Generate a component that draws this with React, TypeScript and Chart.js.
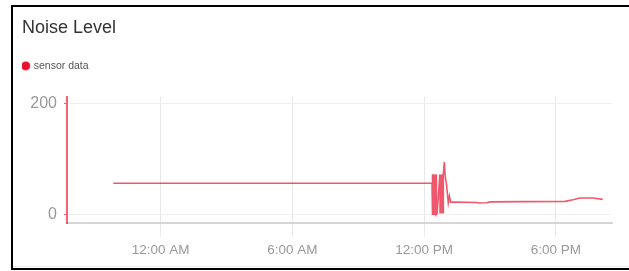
import { useEffect, useRef } from 'react';
import { Chart, registerables } from 'chart.js';

Chart.register(...registerables);

const CHART_TITLE = 'Noise Level';
const SERIES_LABEL = 'sensor data';

// hours relative to midnight
const TIME_HOURS = [
  -2.16, 12.36,
  12.365, 12.37, 12.375, 12.38, 12.385, 12.39, 12.395, 12.4, 12.405, 12.41, 12.415, 12.42,
  12.425, 12.43, 12.435, 12.44, 12.445, 12.45, 12.455, 12.46, 12.465, 12.47, 12.475, 12.48,
  12.485, 12.49, 12.495, 12.5, 12.505, 12.51, 12.515, 12.52, 12.525, 12.53, 12.535, 12.54,
  12.545, 12.55, 12.555, 12.56, 12.565, 12.57, 12.59, 12.72,
  12.725, 12.73, 12.735, 12.74, 12.745, 12.75, 12.755, 12.76, 12.765, 12.77, 12.775, 12.78,
  12.785, 12.79, 12.795, 12.8, 12.805, 12.81, 12.815, 12.82, 12.825, 12.83, 12.835, 12.84,
  12.845, 12.85, 12.855, 12.86, 12.865, 12.87, 12.875, 12.88,
  12.92, 12.96, 13.02, 13.1, 13.15, 13.21, 13.41, 14.4, 14.5, 14.85, 15.0, 16.5, 18.42, 18.78,
  19.1, 19.69, 20.14,
];
const NOISE_VALUES = [
  57, 57,
  73, 0, 73, 2, 73, 0, 72, 1, 73, 0, 73, 0,
  73, 1, 72, 0, 73, 2, 73, 0, 72, 1, 73, 0,
  73, 0, 72, 1, 73, 0, 73, 2, 72, 0, 73, 1,
  73, 0, 72, 0, 73, 1, 2, 73,
  4, 73, 5, 72, 4, 73, 6, 73, 4, 72, 5, 73,
  4, 73, 6, 72, 5, 73, 4, 73, 5, 72, 4, 73,
  6, 73, 5, 72, 4, 73, 6, 73,
  95, 70, 55, 22, 34, 23, 23, 22.5, 21.5, 22, 23.5, 24, 24.5, 27.5,
  30.5, 30.5, 28,
];

const X_TICK_HOURS = [0, 6, 12, 18];
const X_TICK_LABELS = ['12:00 AM', '6:00 AM', '12:00 PM', '6:00 PM'];
const Y_TICK_VALUES = [0, 200];

const FONT = "'Liberation Sans', Arial, sans-serif";

export default function App() {
  const canvasRef = useRef<HTMLCanvasElement | null>(null);

  useEffect(() => {
    const canvas = canvasRef.current;
    if (!canvas) return;

    const legendSpacer = {
      id: 'legendSpacer',
      beforeInit(chart: any) {
        const legend = chart.legend;
        if (!legend) return;
        const orig = legend.fit;
        legend.fit = function () {
          orig.call(this);
          this.height += 15.5;
        };
      },
    };

    // card frame: black left, top and bottom edges, faint inner line near the bottom
    const cardFrame = {
      id: 'cardFrame',
      beforeDraw(chart: any) {
        const ctx = chart.ctx;
        const w = chart.width;
        ctx.save();
        ctx.fillStyle = '#fff';
        ctx.fillRect(0, 0, w, chart.height);
        ctx.fillStyle = '#000';
        ctx.fillRect(11, 5, w - 11, 2);
        ctx.fillRect(11, 5, 2, 265);
        ctx.fillRect(11, 268, w - 11, 2);
        ctx.fillStyle = '#eee';
        ctx.fillRect(13, 266, w - 13, 1);
        ctx.restore();
      },
    };

    const points = TIME_HOURS.map((t, i) => ({ x: t, y: NOISE_VALUES[i] }));

    const chart = new Chart(canvas, {
      type: 'line',
      data: {
        datasets: [
          {
            label: SERIES_LABEL,
            data: points,
            borderColor: 'rgba(232,17,45,0.7)',
            backgroundColor: 'rgb(232,17,45)',
            borderWidth: 1.6,
            pointRadius: 0,
            tension: 0,
            fill: false,
          },
        ],
      },
      options: {
        animation: false,
        responsive: false,
        devicePixelRatio: 1,
        layout: { padding: { left: 22, right: 17, top: 0, bottom: 0 } },
        plugins: {
          title: {
            display: true,
            text: CHART_TITLE,
            align: 'start',
            color: '#333',
            font: { family: FONT, size: 18, weight: 'normal' },
            padding: { top: 17, bottom: 21 },
          },
          legend: {
            display: true,
            align: 'start',
            labels: {
              usePointStyle: true,
              pointStyle: 'circle',
              boxWidth: 5.5,
              boxHeight: 5.5,
              padding: 1,
              color: '#555',
              font: { family: FONT, size: 10.5 },
            },
          },
          tooltip: { enabled: false },
        },
        scales: {
          x: {
            type: 'linear',
            min: -4.27,
            max: 20.56,
            afterBuildTicks: (scale: any) => {
              scale.ticks = X_TICK_HOURS.map((v) => ({ value: v }));
            },
            afterFit: (scale: any) => {
              scale.height = 48;
            },
            grid: {
              color: '#e8e8e8',
              tickColor: '#e8e8e8',
              tickLength: 14,
              lineWidth: 1,
            },
            border: { color: '#d6d6d6', width: 2 },
            ticks: {
              color: '#999',
              padding: 5,
              maxRotation: 0,
              font: { family: FONT, size: 13.5 },
              callback: (v: any) => {
                const i = X_TICK_HOURS.indexOf(Number(v));
                return i >= 0 ? X_TICK_LABELS[i] : '';
              },
            },
          },
          y: {
            type: 'linear',
            min: -14.5,
            max: 213,
            afterBuildTicks: (scale: any) => {
              scale.ticks = Y_TICK_VALUES.map((v) => ({ value: v }));
            },
            afterFit: (scale: any) => {
              scale.width = 45;
            },
            grid: {
              color: '#efefef',
              tickColor: 'rgba(232,17,45,0.7)',
              tickLength: 3,
              lineWidth: 1,
            },
            border: { color: 'rgba(232,17,45,0.65)', width: 2 },
            ticks: {
              color: '#999',
              padding: 7,
              font: { family: FONT, size: 16 },
            },
          },
        },
      },
      plugins: [legendSpacer, cardFrame],
    });

    return () => {
      chart.destroy();
    };
  }, []);

  return (
    <canvas
      ref={canvasRef}
      width={629}
      height={271}
      style={{ position: 'fixed', left: 0, top: 0, width: 629, height: 271 }}
    />
  );
}
